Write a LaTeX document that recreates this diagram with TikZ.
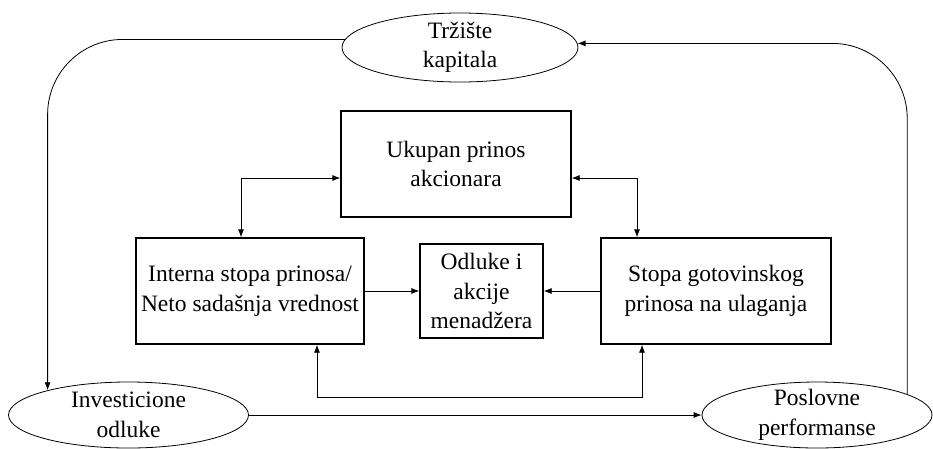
\documentclass[tikz,border=0pt]{standalone}
\usepackage{fontspec}
\setmainfont{Liberation Serif}
\usetikzlibrary{positioning,shapes.geometric,arrows.meta}

\begin{document}
\begin{tikzpicture}[
x=1pt, y=-1pt, >={Latex[length=8pt,width=6pt]},
box/.style={rectangle, draw=black, fill=white, line width=1.3pt, align=center, inner sep=3pt, font=\fontsize{23.5}{29.5}\selectfont},
oval/.style={ellipse, draw=black, fill=white, line width=0.8pt, align=center, inner xsep=0pt, inner ysep=-4pt, font=\fontsize{23.5}{29.5}\selectfont},
link/.style={line width=0.8pt}
]
\useasboundingbox (0,0) rectangle (933,448);

\node[oval, minimum width=236pt, minimum height=69pt](kapital) at (460,47.5){Tržište\\kapitala};
\node[box, minimum width=230pt, minimum height=106pt](ukupan) at (456,164){Ukupan prinos\\akcionara};
\node[box, minimum width=228pt, minimum height=106pt](interna) at (250,291){Interna stopa prinosa/\\Neto sadašnja vrednost};
\node[box, minimum width=123pt, minimum height=94pt](odluke)[right of = interna, node distance=231.5pt]{Odluke i\\akcije\\menadžera};
\node[box, minimum width=230pt, minimum height=106pt](stopa)[right of = odluke, node distance=234.5pt]{Stopa gotovinskog\\prinosa na ulaganja};
\node[oval, minimum width=240pt, minimum height=66pt](invest) at (128.5,415){Investicione\\odluke};
\node[oval, minimum width=230pt, minimum height=66pt](poslovne)[right of = invest, node distance=688.5pt]{Poslovne\\performanse};
\coordinate (fork) at (480,397);

\draw[link, ->, rounded corners=75pt] (kapital.176) -| (invest.163);
\draw[link, ->, rounded corners=75pt] (poslovne.13) |- (kapital.2);

\draw[link, <->] ([yshift=-14pt]ukupan.west) -| ([xshift=-9pt]interna.north);
\draw[link, <->] ([yshift=-14pt]ukupan.east) -| ([xshift=-79pt]stopa.north);

\draw[link, ->] (interna.east) -- (odluke.west);
\draw[link, ->] (stopa.west) -- (odluke.east);

\draw[link, <->] ([xshift=67pt]interna.south) |- (fork) -| ([xshift=-74pt]stopa.south);

\draw[link, ->] (invest.east) -- (poslovne.west);

\end{tikzpicture}
\end{document}
